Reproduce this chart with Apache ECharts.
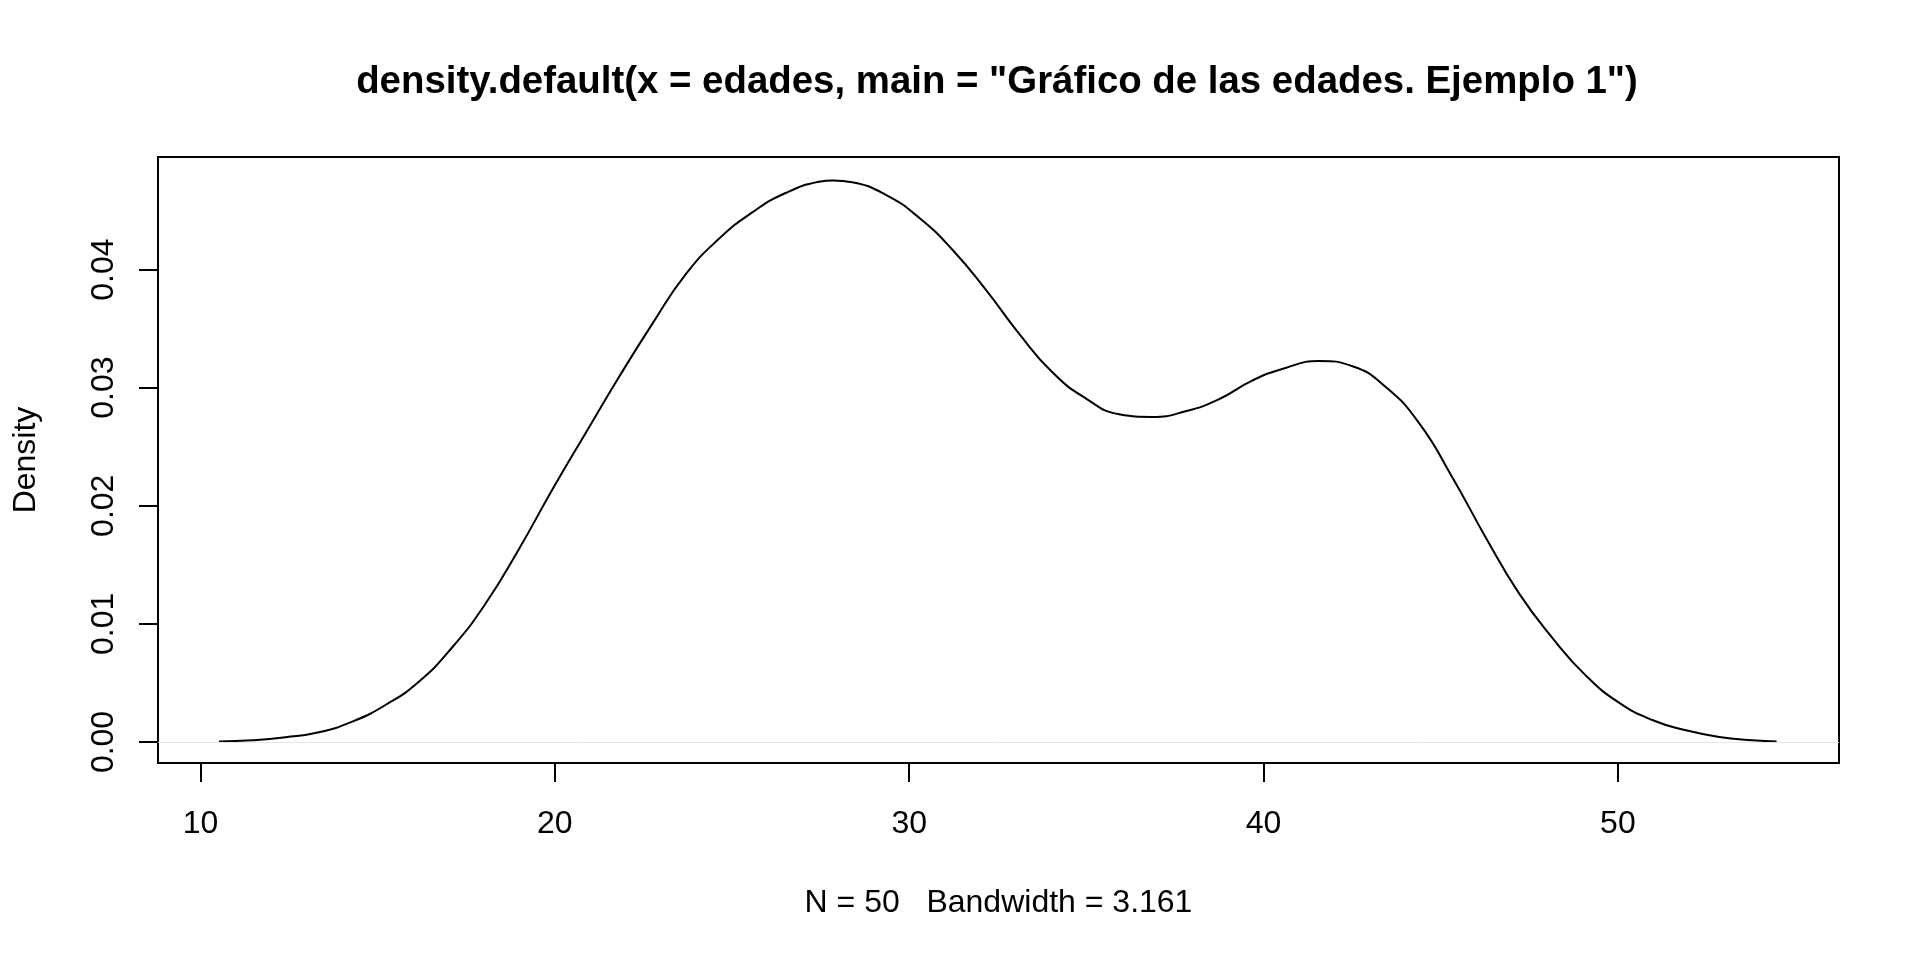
<!DOCTYPE html>
<html>
<head>
<meta charset="utf-8">
<script src="https://cdn.jsdelivr.net/npm/echarts@6/dist/echarts.min.js"></script>
<style>
html,body{margin:0;padding:0;background:#fff;}
#chart{width:1920px;height:960px;}
</style>
</head>
<body>
<div id="chart"></div>
<script>
// Density estimate
var xValues = [10.52, 11.46, 12.40, 13.34, 14.28, 15.22, 16.16, 17.10, 18.04, 18.98, 19.93, 20.87, 21.81, 22.75, 23.69, 24.63, 25.57, 26.51, 27.45, 27.86, 28.39, 29.34, 30.28, 31.22, 32.16, 33.10, 34.04, 34.98, 35.92, 36.86, 37.80, 38.74, 39.68, 40.62, 41.57, 42.51, 43.45, 44.39, 45.33, 46.27, 47.21, 48.15, 49.09, 50.03, 50.97, 51.92, 52.86, 53.80, 54.48];
var densityValues = [0.00003, 0.00014, 0.0004, 0.00082, 0.00172, 0.00313, 0.0051, 0.008, 0.0117, 0.0163, 0.02138, 0.02617, 0.0309, 0.0354, 0.03959, 0.0426, 0.04484, 0.04648, 0.04743, 0.04755, 0.0474, 0.04633, 0.04439, 0.04168, 0.0383, 0.03458, 0.0313, 0.0291, 0.02775, 0.02752, 0.028, 0.02902, 0.0306, 0.03167, 0.03226, 0.03181, 0.03005, 0.027, 0.0224, 0.01732, 0.01258, 0.00882, 0.00564, 0.00333, 0.00186, 0.00099, 0.00042, 0.00014, 0.00003];
var xTicks = [10, 20, 30, 40, 50];
var yTicks = [0, 0.01, 0.02, 0.03, 0.04];
var titleText = 'density.default(x = edades, main = "Gráfico de las edades. Ejemplo 1")';
var xLabel = 'N = 50   Bandwidth = 3.161';
var yLabel = 'Density';

var points = xValues.map(function (x, i) { return [x, densityValues[i]]; });
var FONT = '"Liberation Sans", Arial, Helvetica, sans-serif';

var chart = echarts.init(document.getElementById('chart'), null, {renderer: 'canvas'});
chart.setOption({
  backgroundColor: '#ffffff',
  animation: false,
  title: {
    text: titleText,
    left: 992,
    textAlign: 'center',
    top: 58,
    textStyle: {fontFamily: FONT, fontSize: 38.4, fontWeight: 'bold', color: '#000'}
  },
  grid: {
    left: 158, right: 81, top: 157, bottom: 197,
    containLabel: false,
    outerBoundsMode: 'none',
    show: true, borderColor: '#000', borderWidth: 2, backgroundColor: 'transparent'
  },
  xAxis: {
    type: 'value',
    min: 8.8, max: 56.24,
    name: xLabel,
    nameLocation: 'middle',
    nameGap: 124,
    nameTextStyle: {fontFamily: FONT, fontSize: 32, color: '#000'},
    axisLine: {show: false, onZero: false},
    splitLine: {show: false},
    axisTick: {show: true, inside: false, length: 19, customValues: xTicks, lineStyle: {color: '#000', width: 2}},
    axisLabel: {show: true, customValues: xTicks, margin: 45, fontFamily: FONT, fontSize: 32, color: '#000',
      formatter: function (v) { return String(v); }}
  },
  yAxis: {
    type: 'value',
    min: -0.00178, max: 0.04953,
    name: yLabel,
    nameLocation: 'middle',
    nameRotate: 90,
    nameGap: 116,
    nameTextStyle: {fontFamily: FONT, fontSize: 32, color: '#000'},
    axisLine: {show: false, onZero: false},
    splitLine: {show: false},
    axisTick: {show: true, inside: false, length: 19, customValues: yTicks, lineStyle: {color: '#000', width: 2}},
    axisLabel: {show: true, customValues: yTicks, rotate: 90, margin: 38, fontFamily: FONT, fontSize: 32, color: '#000',
      formatter: function (v) { return v.toFixed(2); }}
  },
  series: [{
    type: 'line',
    data: points,
    smooth: 0.5,
    showSymbol: false,
    symbol: 'none',
    lineStyle: {color: '#000', width: 2},
    markLine: {
      silent: true,
      symbol: ['none', 'none'],
      label: {show: false},
      lineStyle: {color: '#e6e6e6', width: 1, type: 'solid'},
      data: [{yAxis: 0}]
    },
    z: 3
  }]
});
</script>
</body>
</html>
